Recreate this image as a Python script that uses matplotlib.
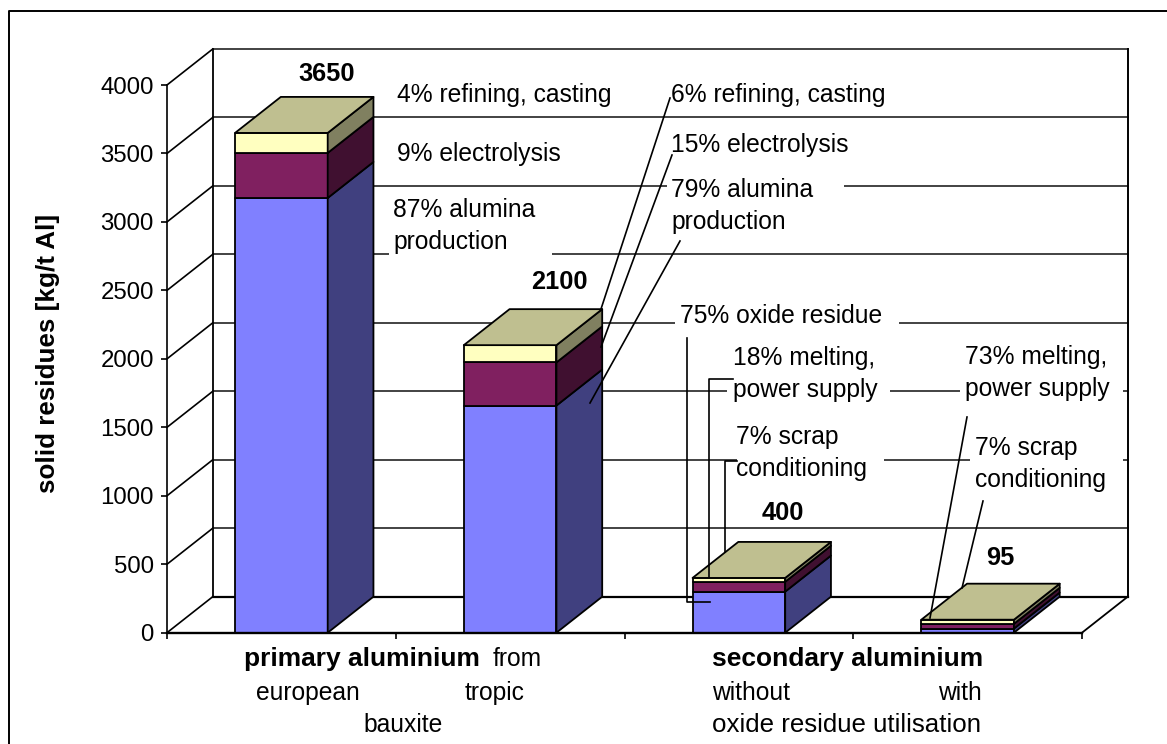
import matplotlib
matplotlib.use("Agg")
import matplotlib.pyplot as plt
from matplotlib.lines import Line2D
from matplotlib.patches import Polygon, Rectangle
from matplotlib.transforms import Affine2D

plt.rcParams["font.family"] = ["Liberation Sans", "DejaVu Sans"]

W, H = 1167, 744

# stacked values per bar, kg/t Al
totals = [3650, 2100, 400, 95]
base_part = [3175, 1659, 300, 30]
middle_part = [329, 315, 72, 35]
top_part = [146, 126, 28, 30]
y_ticks = [0, 500, 1000, 1500, 2000, 2500, 3000, 3500, 4000]

front_colors = ["#8080FF", "#802060", "#FFFFC0"]
side_colors = ["#40407F", "#401030", "#808060"]
roof_color = "#BFBF90"

# axes rectangle in pixels, depth of the fake 3D box in data units
left, right, bottom, top = 167, 1082, 632.7, 85
bar_width = 0.405
depth_x = 0.2
depth_y = 263
label_size = 17.7
bold_size = 19

fig = plt.figure(figsize=(W / 100, H / 100), dpi=100, facecolor="white")
ax = fig.add_axes([left / W, 1 - bottom / H, (right - left) / W, (bottom - top) / H])
ax.set_xlim(0, 4)
ax.set_ylim(0, 4000)
ax.patch.set_visible(False)

# pixel positions for the annotations, origin top left
px = Affine2D().scale(1 / W, -1 / H).translate(0, 1) + fig.transFigure

for side in ["top", "right"]:
    ax.spines[side].set_visible(False)
ax.spines["left"].set_linewidth(1.2)
ax.spines["bottom"].set_linewidth(1.7)
ax.spines["left"].set_zorder(5)
ax.spines["bottom"].set_zorder(5)
ax.set_xticks(range(5))
ax.set_xticklabels([])
ax.set_yticks(y_ticks)
ax.tick_params(axis="y", length=4, width=1.2, labelsize=17.3, pad=5.5)
ax.tick_params(axis="x", length=4, width=1.2)
ax.set_ylabel("solid residues [kg/t Al]", fontsize=18.7, fontweight="bold")
ax.yaxis.set_label_coords((60 - left) / (right - left), 0.51)


def line(xs, ys, lw=1.2, color="black", z=1):
    ax.add_line(Line2D(xs, ys, lw=lw, color=color, zorder=z, clip_on=False,
                       solid_capstyle="projecting"))


# gridlines wrap from the value axis onto the back wall
for v in y_ticks:
    line([0, depth_x], [v, v + depth_y], lw=1.2)
    line([depth_x, 4 + depth_x], [v + depth_y, v + depth_y], lw=1.2, color="#222222")
line([depth_x, depth_x], [depth_y, 4000 + depth_y], lw=1.3)
line([4 + depth_x, 4 + depth_x], [depth_y, 4000 + depth_y], lw=1.4)
line([depth_x, 4 + depth_x], [depth_y, depth_y], lw=1.6)
line([4, 4 + depth_x], [0, depth_y], lw=1.3)


def box(x0, y0, y1, front, side_col, roof=None):
    x1 = x0 + bar_width
    style = dict(edgecolor="black", linewidth=1.3, zorder=3, clip_on=False, joinstyle="round")
    ax.add_patch(Polygon([(x0, y0), (x1, y0), (x1, y1), (x0, y1)], facecolor=front, **style))
    ax.add_patch(Polygon([(x1, y0), (x1 + depth_x, y0 + depth_y), (x1 + depth_x, y1 + depth_y),
                          (x1, y1)], facecolor=side_col, **style))
    if roof:
        ax.add_patch(Polygon([(x0, y1), (x1, y1), (x1 + depth_x, y1 + depth_y),
                              (x0 + depth_x, y1 + depth_y)], facecolor=roof, **style))


for i in range(len(totals)):
    x0 = i + 0.5 - bar_width / 2
    parts = [base_part[i], middle_part[i], top_part[i]]
    floor = 0
    for k, part in enumerate(parts):
        box(x0, floor, floor + part, front_colors[k], side_colors[k],
            roof_color if k == 2 else None)
        floor += part

# white label backgrounds that cut the gridlines
masks = [
    (389, 248, 552, 262),
    (667, 180, 844, 192),
    (675, 316, 899, 330),
    (727, 384, 890, 398),
    (960, 384, 1123, 398),
    (737, 454, 884, 468),
    (970, 454, 1123, 468),
]
for x0, y0, x1, y1 in masks:
    ax.add_patch(Rectangle((x0, y0), x1 - x0, y1 - y0, transform=px, facecolor="white",
                           edgecolor="none", zorder=2, clip_on=False))

# share labels
notes = [
    (397, 95, "4% refining, casting"),
    (397, 154, "9% electrolysis"),
    (393, 226, "87% alumina\nproduction"),
    (671, 95, "6% refining, casting"),
    (671, 145, "15% electrolysis"),
    (671, 206, "79% alumina\nproduction"),
    (680, 316, "75% oxide residue"),
    (733, 374, "18% melting,\npower supply"),
    (965, 373, "73% melting,\npower supply"),
    (736, 453, "7% scrap\nconditioning"),
    (975, 464, "7% scrap\nconditioning"),
]
for x, y, s in notes:
    ax.text(x, y, s, transform=px, fontsize=label_size, ha="left", va="center", linespacing=1.46, zorder=2.5)

# leader lines from the labels to the stacks
leaders = [
    ([670, 601], [98, 309]),
    ([672, 601], [155, 347]),
    ([680, 590], [241, 403]),
    ([687, 687, 710], [338, 602, 602]),
    ([733, 709, 709], [379, 379, 577]),
    ([737, 725, 725], [461, 461, 552]),
    ([967, 930], [417, 618]),
    ([983, 962], [501, 588]),
]
for xs, ys in leaders:
    ax.add_line(Line2D(xs, ys, lw=1.2, color="black", zorder=4, transform=px, clip_on=False))

# totals above the bars
total_pos = [(327, 74), (559, 282), (783, 513), (1000, 558)]
for (x, y), t in zip(total_pos, totals):
    ax.text(x, y, str(t), transform=px, fontsize=18.3, fontweight="bold", ha="center", va="center", zorder=6)

# category captions, a small text block below the axis
ax.text(244, 659, "primary aluminium", transform=px, fontsize=bold_size, fontweight="bold", va="center")
ax.text(493, 659, "from", transform=px, fontsize=label_size, va="center")
ax.text(256, 693, "european", transform=px, fontsize=label_size, va="center")
ax.text(465, 693, "tropic", transform=px, fontsize=label_size, va="center")
ax.text(363, 725, "bauxite", transform=px, fontsize=label_size, va="center")
ax.text(712, 659, "secondary aluminium", transform=px, fontsize=bold_size, fontweight="bold", va="center")
ax.text(712, 693, "without", transform=px, fontsize=label_size, va="center")
ax.text(938, 693, "with", transform=px, fontsize=label_size, va="center")
ax.text(712, 725, "oxide residue utilisation", transform=px, fontsize=18.6, va="center")

# outer chart frame, only left and top edges
fig.add_artist(Line2D([9, 9, 1167], [744, 11, 11], lw=1.4, color="black", transform=px))

fig.savefig("out.png", dpi=100, facecolor="white")
